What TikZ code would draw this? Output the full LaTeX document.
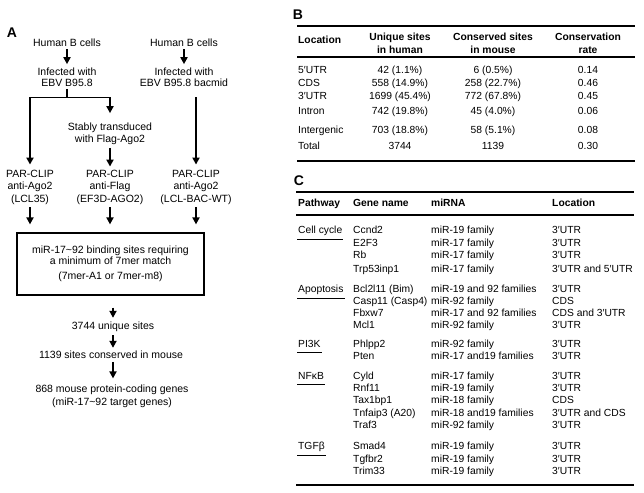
\documentclass[tikz,border=0pt]{standalone}
\usepackage{fontspec}
\setmainfont{Liberation Sans}
\usetikzlibrary{arrows.meta}
\newcommand{\fsa}{\fontsize{10.5}{11.5}\selectfont}
\newcommand{\fsb}{\fontsize{10.3}{13}\selectfont}
\begin{document}
\begin{tikzpicture}[x=1pt,y=-1pt,
  lbl/.style={font=\fontsize{14}{14}\selectfont\bfseries, inner sep=0pt, anchor=center},
  ta/.style={font=\fsa, inner sep=0pt, anchor=mid, align=center},
  tb/.style={font=\fsb, inner sep=0pt, anchor=mid},
  tbl/.style={tb, anchor=mid west},
  hb/.style={font=\fsb\bfseries, inner sep=0pt, align=center},
  hbl/.style={font=\fsb\bfseries, inner sep=0pt, anchor=mid west},
  arr/.style={line width=1.9pt, -{Triangle[width=7pt,length=7pt]}},
  ln/.style={line width=1.9pt},
  bx/.style={draw, line width=1.2pt, minimum width=187pt, minimum height=62pt, inner sep=0pt, font=\fsa, align=center},
  ruleA/.style={line width=2pt},
  ruleB/.style={line width=2.8pt},
  ruleC/.style={line width=1.5pt},
  uline/.style={line width=0.9pt}
]
\useasboundingbox (0,0) rectangle (644,492);

% panel labels
\node[lbl] (lA) at (12,33) {A};
\node[lbl] (lB) at (298,15) {B};
\node[lbl] (lC) at (299,181) {C};

% ---------- Panel A ----------
\node[ta] (hb1) at (67,44) {Human B cells};
\node[ta] (hb2) at (184,44) {Human B cells};
\node[ta, anchor=center] (inf1) at (67,77) {Infected with\\EBV B95.8};
\node[ta, anchor=center] (inf2) at (184,77) {Infected with\\EBV B95.8 bacmid};
\draw[arr, shorten <=2.5pt, shorten >=3pt] (hb1) -- (inf1);
\draw[arr, shorten <=2.5pt, shorten >=3pt] (hb2) -- (inf2);

\coordinate (br) at (67,97.5);
\coordinate (rtop) at (196,97.5);
\node[ta, anchor=center] (stab) at (110,134) {Stably transduced\\with Flag-Ago2};
\node[ta, anchor=center, font=\fontsize{10.5}{12.5}\selectfont] (par1) at (30,187) {PAR-CLIP\\anti-Ago2\\(LCL35)};
\node[ta, anchor=center, font=\fontsize{10.5}{12.5}\selectfont] (par2) at (110,187) {PAR-CLIP\\anti-Flag\\(EF3D-AGO2)};
\node[ta, anchor=center, font=\fontsize{10.5}{12.5}\selectfont] (par3) at (196,187) {PAR-CLIP\\anti-Ago2\\(LCL-BAC-WT)};

\draw[ln, shorten <=2pt] (inf1) -- (br);
\draw[arr, shorten >=5pt] (br) -| (par1);
\draw[arr, shorten >=10pt] (br) -| (stab);
\draw[arr, shorten <=3pt, shorten >=3pt] (stab) -- (par2);
\draw[arr, shorten >=5pt] (rtop) -- (par3);

\node[bx] (box) at (110.5,264) {miR-17\textasciitilde 92 binding sites requiring\\a minimum of 7mer match\\[3.5pt](7mer-A1 or 7mer-m8)};
\draw[arr, shorten <=3pt, shorten >=8pt] (par1) -- (par1 |- box.north);
\draw[arr, shorten <=3pt, shorten >=8pt] (par2) -- (par2 |- box.north);
\draw[arr, shorten <=3pt, shorten >=8pt] (par3) -- (par3 |- box.north);

\node[ta] (n3744) at (113,327) {3744 unique sites};
\node[ta] (n1139) at (111,356) {1139 sites conserved in mouse};
\node[ta, anchor=center, font=\fontsize{10.5}{13}\selectfont] (n868) at (112,396) {868 mouse protein-coding genes\\(miR-17\textasciitilde 92 target genes)};
\draw[arr, shorten <=12pt, shorten >=4pt] (box.south -| n3744) -- (n3744);
\draw[arr, shorten <=3pt, shorten >=3pt] (n3744) -- (n3744 |- n1139.north);
\draw[arr, shorten <=3pt, shorten >=6pt] (n1139.south -| n3744) -- (n3744 |- n868.north);

% ---------- Panel B ----------
\draw[ruleA] (297,26) -- (635,26);
\draw[ruleB] (297,57) -- (635,57);
\draw[ruleB] (297,161) -- (635,161);
\node[hbl] (bhL) at (298,41) {Location};
\node[hb] (bhU) at (400,43) {Unique sites\\in human};
\node[hb] (bhC) at (493,43) {Conserved sites\\in mouse};
\node[hb] (bhR) at (588,43) {Conservation\\rate};
\foreach \y/\a/\b/\c/\d [count=\i] in {
  70.5/5′UTR/42 (1.1\%)/6 (0.5\%)/0.14,
  83.5/CDS/558 (14.9\%)/258 (22.7\%)/0.46,
  97/3′UTR/1699 (45.4\%)/772 (67.8\%)/0.45,
  112/Intron/742 (19.8\%)/45 (4.0\%)/0.06,
  131/Intergenic/703 (18.8\%)/58 (5.1\%)/0.08,
  147/Total/3744/1139/0.30}{
  \node[tbl] (bL\i) at (298,\y) {\a};
  \node[tb] (bU\i) at (400,\y) {\b};
  \node[tb] (bC\i) at (493,\y) {\c};
  \node[tb] (bR\i) at (588,\y) {\d};
}

% ---------- Panel C ----------
\draw[ruleC] (296,192) -- (634,192);
\draw[ruleA] (296,215) -- (634,215);
\draw[ruleC] (296,485) -- (634,485);
\node[hbl] (chP) at (298,204) {Pathway};
\node[hbl] (chG) at (353,204) {Gene name};
\node[hbl] (chM) at (431,204) {miRNA};
\node[hbl] (chL) at (552,204) {Location};

\foreach \y/\t [count=\i] in {231/Cell cycle, 290/Apoptosis, 345/PI3K, 377/NFκB, 447/TGFβ}{
  \node[tbl] (pw\i) at (298,\y) {\t};
  \draw[uline] ([shift={(-1,8)}]pw\i.west) -- ([shift={(1,8)}]pw\i.east);
}

\foreach \y/\g/\m/\l [count=\i] in {
  231/Ccnd2/miR-19 family/3′UTR,
  243.5/E2F3/miR-17 family/3′UTR,
  256/Rb/miR-17 family/3′UTR,
  270/Trp53inp1/miR-17 family/3′UTR and 5′UTR,
  290/Bcl2l11 (Bim)/miR-19 and 92 families/3′UTR,
  302/Casp11 (Casp4)/miR-92 family/CDS,
  314/Fbxw7/miR-17 and 92 families/CDS and 3′UTR,
  326/Mcl1/miR-92 family/3′UTR,
  345/Phlpp2/miR-92 family/3′UTR,
  357/Pten/miR-17 and19 families/3′UTR,
  377/Cyld/miR-17 family/3′UTR,
  389/Rnf11/miR-19 family/3′UTR,
  401/Tax1bp1/miR-18 family/CDS,
  413.5/Tnfaip3 (A20)/miR-18 and19 families/3′UTR and CDS,
  426/Traf3/miR-92 family/3′UTR,
  447/Smad4/miR-19 family/3′UTR,
  459.5/Tgfbr2/miR-19 family/3′UTR,
  472/Trim33/miR-19 family/3′UTR}{
  \node[tbl] (cG\i) at (353,\y) {\g};
  \node[tbl] (cM\i) at (431,\y) {\m};
  \node[tbl] (cL\i) at (552,\y) {\l};
}
\end{tikzpicture}
\end{document}
